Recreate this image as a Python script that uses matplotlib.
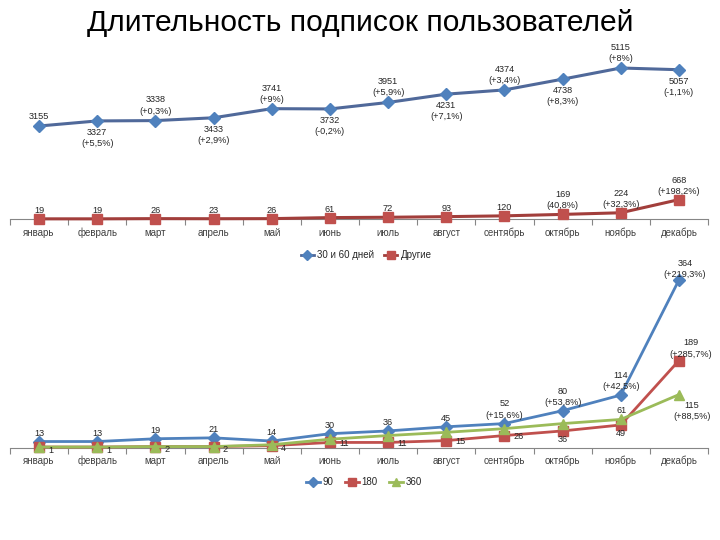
import matplotlib
matplotlib.use('Agg')
import matplotlib.pyplot as plt
from matplotlib.lines import Line2D

plt.rcParams['font.family'] = ['Liberation Sans', 'DejaVu Sans']

title = 'Длительность подписок пользователей'
months = ['январь', 'февраль', 'март', 'апрель', 'май', 'июнь', 'июль',
          'август', 'сентябрь', 'октябрь', 'ноябрь', 'декабрь']

# top chart
s30_60 = [3155, 3327, 3338, 3433, 3741, 3732, 3951, 4231, 4374, 4738, 5115, 5057]
s30_60_pct = ['', '+5,5%', '+0,3%', '+2,9%', '+9%', '-0,2%', '+5,9%', '+7,1%',
              '+3,4%', '+8,3%', '+8%', '-1,1%']
other = [19, 19, 26, 23, 26, 61, 72, 93, 120, 169, 224, 668]
other_pct = ['', '', '', '', '', '', '', '', '', '40,8%', '+32,3%', '+198,2%']

# bottom chart
s90 = [13, 13, 19, 21, 14, 30, 36, 45, 52, 80, 114, 364]
s90_pct = ['', '', '', '', '', '', '', '', '+15,6%', '+53,8%', '+42,5%', '+219,3%']
s180 = [1, 1, 2, 2, 4, 11, 11, 15, 26, 36, 49, 189]
s180_pct = ['', '', '', '', '', '', '', '', '', '', '', '+285,7%']
s360 = [1, 1, 2, 2, 6, 18, 26, 33, 41, 52, 61, 115]
s360_pct = ['', '', '', '', '', '', '', '', '', '', '', '+88,5%']

legend_top = ['30 и 60 дней', 'Другие']
legend_bottom = ['90', '180', '360']

BLUE = '#4F81BD'
BLUE_LINE = '#50699A'
RED = '#C0504D'
RED_LINE = '#A23E3B'
GREEN = '#9BBB59'
LBL = '#262626'
AX = '#868686'

fig = plt.figure(figsize=(7.2, 5.4), dpi=100)
fig.text(0.5, 1 - 23 / 540, title, ha='center', va='center', fontsize=21.6, color='black')

x = list(range(12))


def setup(ax, ymax):
    ax.set_xlim(-0.5, 11.5)
    ax.set_ylim(0, ymax)
    for s in ['top', 'right', 'left']:
        ax.spines[s].set_visible(False)
    ax.spines['bottom'].set_color(AX)
    ax.spines['bottom'].set_linewidth(0.8)
    ax.set_yticks([])
    ax.set_xticks(x)
    ax.set_xticklabels(months, fontsize=7, color='#404040')
    ax.tick_params(axis='x', which='major', length=0, pad=6)
    ax.set_xticks([i - 0.5 for i in range(13)], minor=True)
    ax.tick_params(axis='x', which='minor', length=4, color=AX, width=0.8)
    ax.patch.set_alpha(0)


def fmt(v, p):
    return f'{v}\n({p})' if p else f'{v}'


def lab(ax, xi, yi, text, dx, dy, va, ha='center'):
    ax.annotate(text, (xi, yi), xytext=(dx, dy), textcoords='offset pixels',
                ha=ha, va=va, fontsize=6.6, color=LBL, linespacing=1.3,
                multialignment='center', zorder=10, annotation_clip=False)


# ---------- top chart
ax1 = fig.add_axes([10 / 720, 1 - 219.4 / 540, 698 / 720, 5600 * 0.0296 / 540])
setup(ax1, 5600)
ax1.plot(x, s30_60, color=BLUE_LINE, lw=2.2, marker='D', ms=6, mfc=BLUE, mec=BLUE,
         clip_on=False, zorder=4)
ax1.plot(x, other, color=RED_LINE, lw=2.2, marker='s', ms=6.5, mfc=RED, mec=RED,
         clip_on=False, zorder=4)
for i in x:
    if i % 2 == 0:
        lab(ax1, i, s30_60[i], fmt(s30_60[i], s30_60_pct[i]), 0, 5, 'bottom')
    else:
        lab(ax1, i, s30_60[i], fmt(s30_60[i], s30_60_pct[i]), 0, -7, 'top')
    lab(ax1, i, other[i], fmt(other[i], other_pct[i]), 0, 4, 'bottom')

h1 = [Line2D([], [], color=BLUE_LINE, lw=2, marker='D', ms=5, mfc=BLUE, mec=BLUE),
      Line2D([], [], color=RED_LINE, lw=2, marker='s', ms=5.5, mfc=RED, mec=RED)]
fig.legend(h1, legend_top, loc='center', bbox_to_anchor=(366 / 720, 1 - 255 / 540),
           ncol=2, frameon=False, fontsize=7, handlelength=1.4, handletextpad=0.3,
           columnspacing=1.0, labelcolor='#262626')

# ---------- bottom chart
ax2 = fig.add_axes([10 / 720, 1 - 447.5 / 540, 698 / 720, 400 * 0.46 / 540])
setup(ax2, 400)
ax2.plot(x, s90, color=BLUE, lw=2, marker='D', ms=6, mfc=BLUE, mec=BLUE,
         clip_on=False, zorder=4)
ax2.plot(x, s180, color=RED, lw=2, marker='s', ms=6.5, mfc=RED, mec=RED,
         clip_on=False, zorder=4)
ax2.plot(x, s360, color=GREEN, lw=2, marker='^', ms=7.5, mfc=GREEN, mec=GREEN,
         clip_on=False, zorder=4)

for i in x:
    # 90
    if i < 11:
        lab(ax2, i, s90[i], fmt(s90[i], s90_pct[i]), 0, 4, 'bottom')
    else:
        lab(ax2, i, s90[i], fmt(s90[i], s90_pct[i]), 6, 1, 'bottom')
    # 180
    if i < 5:
        lab(ax2, i, s180[i], fmt(s180[i], s180_pct[i]), 9, -3, 'center', 'left')
    elif i < 9:
        lab(ax2, i, s180[i], fmt(s180[i], s180_pct[i]), 9, -1, 'center', 'left')
    elif i < 11:
        lab(ax2, i, s180[i], fmt(s180[i], s180_pct[i]), 0, -4, 'top')
    else:
        lab(ax2, i, s180[i], fmt(s180[i], s180_pct[i]), 12, 2, 'bottom')
    # 360
    if i == 10:
        lab(ax2, i, s360[i], fmt(s360[i], s360_pct[i]), 1, 4, 'bottom')
    elif i == 11:
        lab(ax2, i, s360[i], fmt(s360[i], s360_pct[i]), 13, -6, 'top')

h2 = [Line2D([], [], color=BLUE, lw=2, marker='D', ms=5, mfc=BLUE, mec=BLUE),
      Line2D([], [], color=RED, lw=2, marker='s', ms=5.5, mfc=RED, mec=RED),
      Line2D([], [], color=GREEN, lw=2, marker='^', ms=6, mfc=GREEN, mec=GREEN)]
fig.legend(h2, legend_bottom, loc='center', bbox_to_anchor=(364 / 720, 1 - 482 / 540),
           ncol=3, frameon=False, fontsize=7, handlelength=1.4, handletextpad=0.3,
           columnspacing=1.2, labelcolor='#262626')

fig.savefig('out.png', dpi=100)
